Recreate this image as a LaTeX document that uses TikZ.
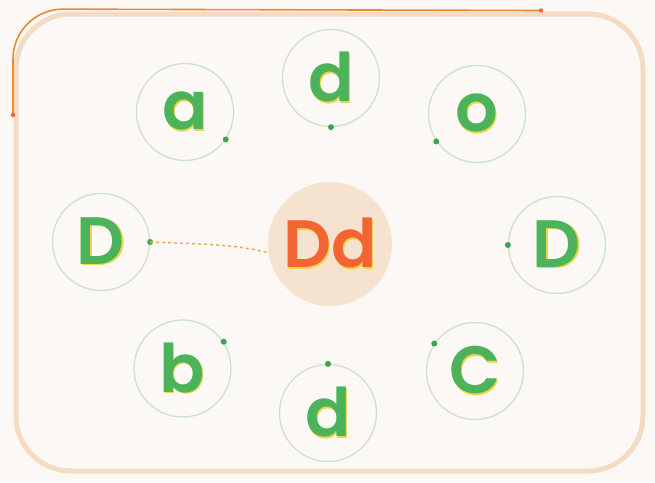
\documentclass[tikz,border=0pt]{standalone}
\usepackage{fontspec}
\setmainfont{Poppins}[BoldFont={Poppins SemiBold}]
\definecolor{bg}{HTML}{FBF8F5}
\definecolor{bordc}{HTML}{F3DCC3}
\definecolor{ringc}{HTML}{CDE3C8}
\definecolor{greenc}{HTML}{4DB35A}
\definecolor{dotc}{HTML}{3FA355}
\definecolor{redc}{HTML}{F26532}
\definecolor{shy}{HTML}{EDD64A}
\definecolor{peach}{HTML}{F5E2CF}
\definecolor{linec}{HTML}{F08A30}
\definecolor{dashc}{HTML}{EFA84A}
\newcommand\shd[1]{\rlap{\kern1.2pt\raisebox{-1.2pt}{\color{shy}#1}}#1}
\tikzset{
  ring/.style={circle, draw=ringc, line width=1.3pt, minimum size=97pt, inner sep=0pt,
    font=\fontsize{67}{67}\selectfont\bfseries, text=greenc},
  hub/.style={circle, fill=peach, minimum size=124pt, inner sep=0pt,
    font=\fontsize{67}{67}\selectfont\bfseries, text=redc},
  gdot/.style={fill=dotc},
}
\begin{document}
\begin{tikzpicture}[x=1pt,y=-1pt]
\useasboundingbox (0,0) rectangle (655,482);
\fill[bg] (0,0) rectangle (655,482);
% frame
\draw[bordc, line width=5pt, rounded corners=55pt] (16,14) rectangle (643,471);
% progress line
\draw[linec, line width=1.6pt, rounded corners=50pt] (13,115) -- (13,9) -- (541,10.5);
\fill[redc] (13,115) circle (2.2);
\fill[redc] (541,10.5) circle (2.2);
% rings
\node[ring] (a) at (185,112) {\shd{a}};
\node[ring] (dt) at (331,78) {\shd{d}};
\node[ring] (o) at (477,114) {\shd{o}};
\node[ring] (Dl) at (101,242) {\shd{D}};
\node[ring] (Dr) at (557,245) {\shd{D}};
\node[ring] (b) at (182.5,368.5) {\shd{b}};
\node[ring] (db) at (328,413) {\shd{d}};
\node[ring] (C) at (475,371) {\shd{C}};
\node[hub] (Dd) at (330,244) {\shd{Dd}};
% dots
\fill[gdot] (a.-34) circle (3);
\fill[gdot] (dt.-90) circle (3);
\fill[gdot] (o.214) circle (3);
\fill[gdot] (Dl.0) circle (3);
\fill[gdot] (Dr.180) circle (3);
\fill[gdot] (b.33) circle (3);
\fill[gdot] (db.90) circle (3);
\fill[gdot] (C.146) circle (3);
% dashed connector
\draw[dashc, line width=1.4pt, dash pattern=on 3pt off 3pt] (Dl.0) .. controls +(45,2) and +(-35,-9) .. (Dd.188);
\end{tikzpicture}
\end{document}
